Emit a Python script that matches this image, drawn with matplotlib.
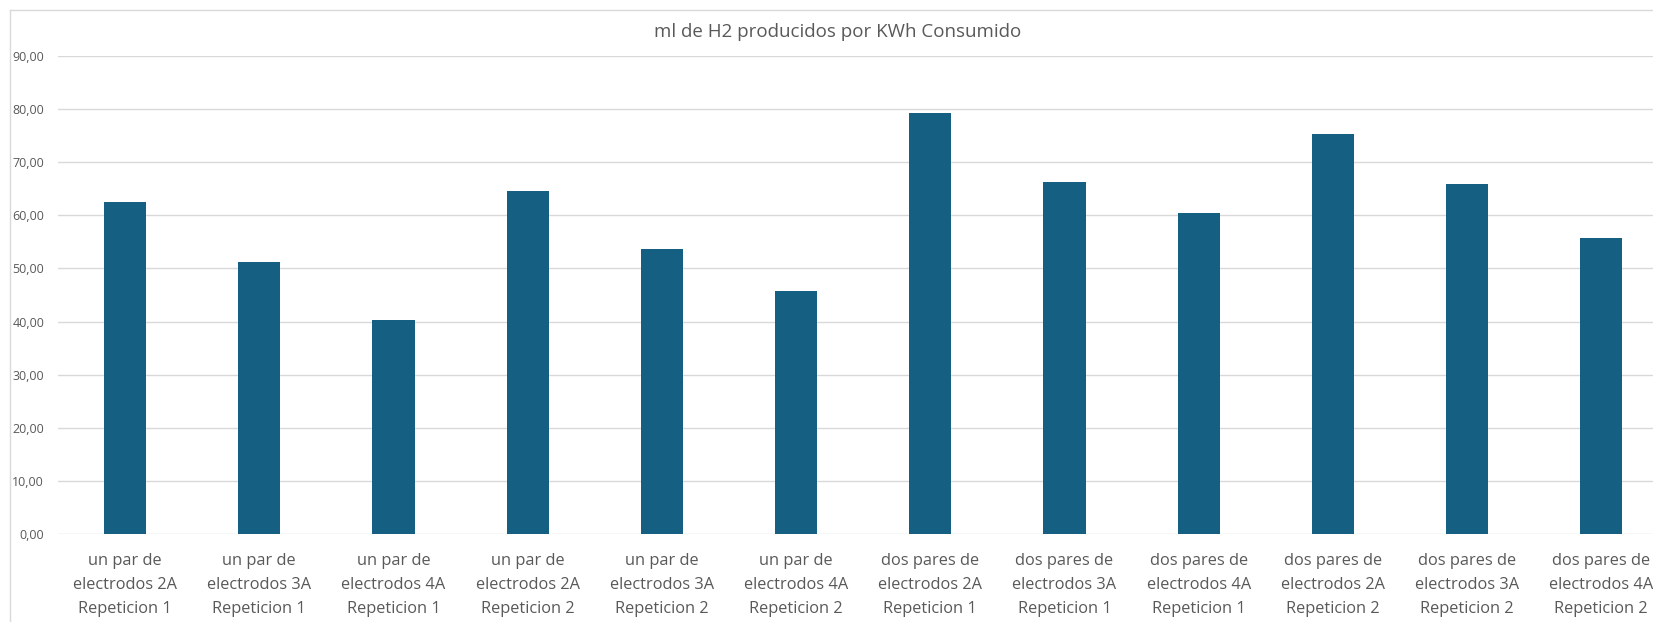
import matplotlib
matplotlib.use("Agg")
import matplotlib.pyplot as plt
from matplotlib.lines import Line2D

plt.rcParams['font.family'] = ['Open Sans', 'DejaVu Sans']

# data
categorias = [
    "un par de\nelectrodos 2A\nRepeticion 1",
    "un par de\nelectrodos 3A\nRepeticion 1",
    "un par de\nelectrodos 4A\nRepeticion 1",
    "un par de\nelectrodos 2A\nRepeticion 2",
    "un par de\nelectrodos 3A\nRepeticion 2",
    "un par de\nelectrodos 4A\nRepeticion 2",
    "dos pares de\nelectrodos 2A\nRepeticion 1",
    "dos pares de\nelectrodos 3A\nRepeticion 1",
    "dos pares de\nelectrodos 4A\nRepeticion 1",
    "dos pares de\nelectrodos 2A\nRepeticion 2",
    "dos pares de\nelectrodos 3A\nRepeticion 2",
    "dos pares de\nelectrodos 4A\nRepeticion 2",
]
ml_h2_kwh = [62.5, 51.2, 40.2, 64.6, 53.6, 45.8, 79.2, 66.2, 60.5, 75.4, 65.9, 55.8]
yticks = [0, 10, 20, 30, 40, 50, 60, 70, 80, 90]
titulo = "ml de H2 producidos por KWh Consumido"

W, H = 1653, 622
fig = plt.figure(figsize=(W/100, H/100), dpi=100)
fig.patch.set_facecolor('white')

# plot area: left edge at x=58, zero line at y=534, 90 line at y=56
# (chart is cropped on the right, so the axes run past the figure edge)
x0, y0, y90 = 58, 534, 56
step = 134.2
ax = fig.add_axes([x0/W, (H-y0)/H, 12*step/W, (y0-y90)/H])

pos = list(range(len(ml_h2_kwh)))
ax.bar(pos, ml_h2_kwh, width=0.313, color='#156082', zorder=3)

ax.set_xlim(-0.5, 11.5)
ax.set_ylim(0, 90)
ax.set_yticks(yticks)
ax.set_yticklabels([f"{v:.2f}".replace('.', ',') for v in yticks])
ax.set_xticks(pos)
ax.set_xticklabels(categorias, linespacing=1.65)
ax.grid(axis='y', color='#d9d9d9', linewidth=1.0, zorder=0)
for s in ax.spines.values():
    s.set_visible(False)
ax.tick_params(axis='y', length=0, pad=10, labelsize=9, labelcolor='#595959')
ax.tick_params(axis='x', length=0, pad=14, labelsize=11.8, labelcolor='#595959')

fig.text(838/W, 1 - 32/H, titulo, ha='center', va='center',
         fontsize=13.5, color='#595959')

# outer chart-area border (left and top, the rest is cropped)
bc = '#d9d9d9'
fig.add_artist(Line2D([9.5/W, 9.5/W], [0, 1 - 9.5/H], color=bc, lw=1))
fig.add_artist(Line2D([9.5/W, 1], [1 - 9.5/H, 1 - 9.5/H], color=bc, lw=1))

fig.savefig("out.png", dpi=100)
